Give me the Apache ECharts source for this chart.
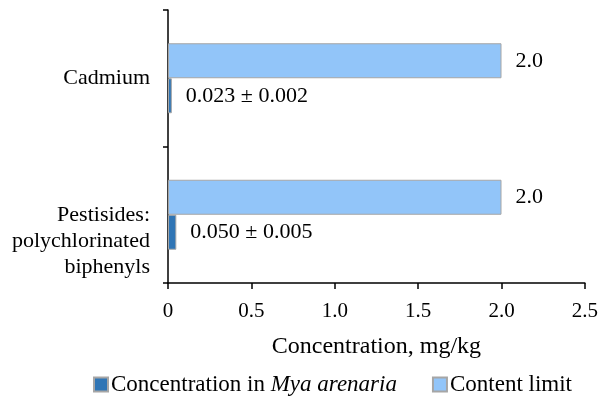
<!DOCTYPE html>
<html>
<head>
<meta charset="utf-8">
<script src="https://cdn.jsdelivr.net/npm/echarts@6/dist/echarts.min.js"></script>
<style>html,body{margin:0;padding:0;background:#fff}#c{width:601px;height:402px}</style>
</head>
<body>
<div id="c"></div>
<script>
const categories = ['Pestisides: polychlorinated biphenyls', 'Cadmium'];
const concentration = [0.050, 0.023];
const concentrationError = [0.005, 0.002];
const contentLimit = [2.0, 2.0];
const xTicks = [0, 0.5, 1.0, 1.5, 2.0, 2.5];
const seriesNames = ['Concentration in Mya arenaria', 'Content limit'];

const FONT = '"Liberation Serif", "Times New Roman", serif';
const chart = echarts.init(document.getElementById('c'));
chart.setOption({
  animation: false,
  textStyle: { fontFamily: FONT },
  grid: { left: 168, right: 14, top: 10, bottom: 119 },
  legend: {
    bottom: 1,
    left: 88,
    itemWidth: 14, itemHeight: 14, itemGap: 35,
    icon: 'rect',
    data: seriesNames,
    textStyle: {
      fontFamily: FONT, fontSize: 23, color: '#000', padding: [0, 0, 0, -2],
      rich: { i: { fontFamily: FONT, fontSize: 23, fontStyle: 'italic', color: '#000' } }
    },
    formatter: function (n) {
      return n === seriesNames[0] ? 'Concentration in {i|Mya arenaria}' : n;
    }
  },
  xAxis: {
    type: 'value',
    min: xTicks[0], max: xTicks[xTicks.length - 1], interval: 0.5,
    name: 'Concentration, mg/kg',
    nameLocation: 'middle', nameGap: 52,
    nameTextStyle: { fontFamily: FONT, fontSize: 24, color: '#000' },
    axisLine: { show: true, lineStyle: { color: '#000', width: 1.5 } },
    axisTick: { show: true, length: 6, lineStyle: { color: '#000', width: 1.5 } },
    splitLine: { show: false },
    axisLabel: {
      fontFamily: FONT, fontSize: 21, color: '#000', margin: 18,
      formatter: function (v) { return v === 0 ? '0' : v.toFixed(1); }
    }
  },
  yAxis: {
    type: 'category',
    data: categories,
    axisLine: { show: true, lineStyle: { color: '#000', width: 1.5 } },
    axisTick: { show: true, length: 5, lineStyle: { color: '#000', width: 1.5 } },
    axisLabel: {
      fontFamily: FONT, fontSize: 22, color: '#000', margin: 18, lineHeight: 26, align: 'right',
      formatter: function (v) {
        if (v.indexOf('Pestisides') === 0) return '\n\nPestisides:\npolychlorinated\nbiphenyls';
        return v;
      }
    }
  },
  series: [
    {
      name: seriesNames[1], type: 'bar',
      data: contentLimit,
      barWidth: 35, barGap: '0%',
      itemStyle: { color: '#92C5F9', borderColor: '#A6A6A6', borderWidth: 1 },
      label: {
        show: true, position: 'right', distance: 14,
        fontFamily: FONT, fontSize: 22, color: '#000',
        formatter: function (p) { return p.value.toFixed(1); }
      }
    },
    {
      name: seriesNames[0], type: 'bar',
      data: concentration,
      barWidth: 35, barGap: '0%',
      itemStyle: { color: '#2F75B5', borderColor: '#A6A6A6', borderWidth: 1 },
      label: {
        show: true, position: 'right', distance: 14,
        fontFamily: FONT, fontSize: 22, color: '#000',
        formatter: function (p) {
          return p.value.toFixed(3) + ' \u00b1 ' + concentrationError[p.dataIndex].toFixed(3);
        }
      }
    }
  ]
});
</script>
</body>
</html>
